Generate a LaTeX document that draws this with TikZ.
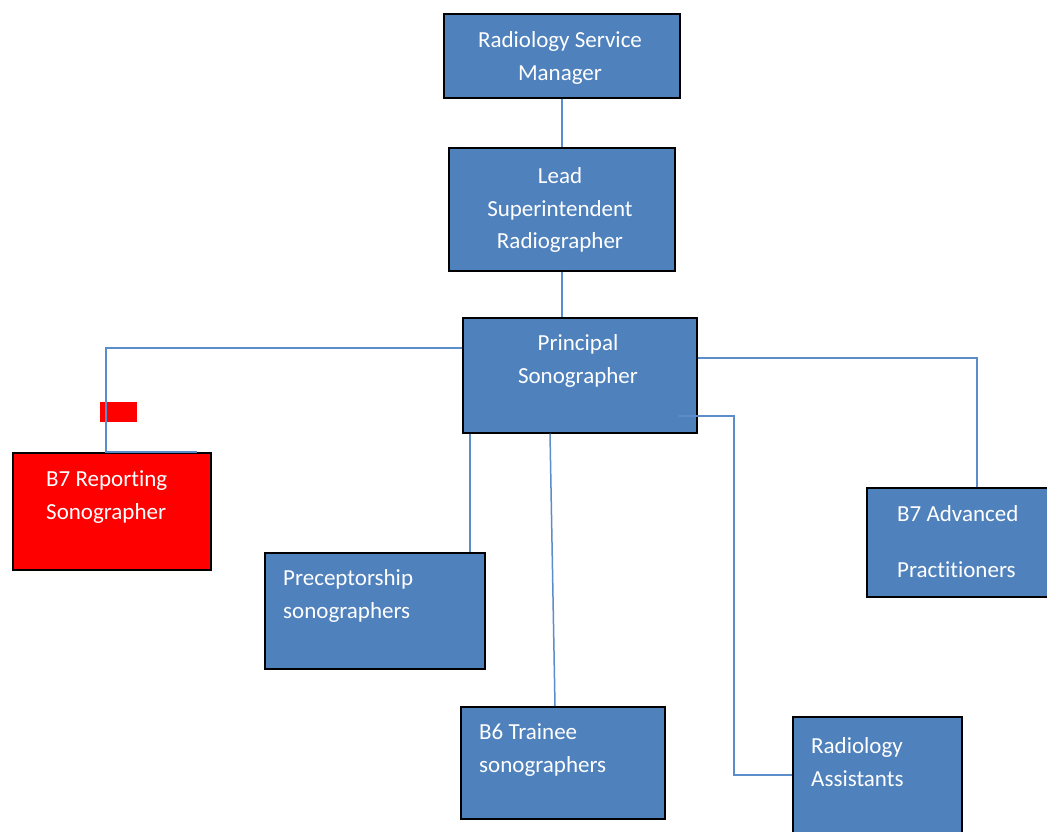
\documentclass[tikz,border=0pt]{standalone}
\usepackage{fontspec}
\setmainfont{Carlito}[Ligatures=NoCommon]
\usetikzlibrary{calc}
\definecolor{boxblue}{HTML}{4F81BD}
\definecolor{linkblue}{HTML}{5B8DCB}
\definecolor{markred}{HTML}{FF0000}
\begin{document}
\begin{tikzpicture}[x=1pt,y=-1pt,
  box/.style={draw=black, line width=1.6pt, fill=boxblue, inner sep=0pt, anchor=north west},
  txt/.style={text=white, font=\fontsize{23}{32.5}\selectfont, inner sep=0pt},
  link/.style={draw=linkblue, line width=1.5pt}]
\clip (0,0) rectangle (1047,831);
\fill[white] (0,0) rectangle (1047,831);

% boxes
\node[box, minimum width=236, minimum height=84] (rsm) at (443,13) {};
\node[box, minimum width=226, minimum height=123] (lead) at (448,147) {};
\node[box, minimum width=234, minimum height=115] (prin) at (462,317) {};
\node[box, minimum width=198, minimum height=117, fill=markred] (rep) at (12,452) {};
\node[box, minimum width=220, minimum height=116] (prec) at (264,552) {};
\node[box, minimum width=204, minimum height=112] (train) at (460,706) {};
\node[box, minimum width=169, minimum height=130] (asst) at (792,716) {};
\node[box, minimum width=190, minimum height=109] (adv) at (866,487) {};

% texts
\node[txt, align=center] (rsm-t) at (560,58) {Radiology Service\\Manager};
\node[txt, align=center] (lead-t) at (560,210) {Lead\\Superintendent\\Radiographer};
\node[txt, align=center] (prin-t) at (578,361) {Principal\\Sonographer};
\node[txt, align=left, anchor=west] (rep-t) at (46,497) {B7 Reporting\\Sonographer};
\node[txt, align=left, anchor=west] (prec-t) at (283,596) {Preceptorship\\sonographers};
\node[txt, align=left, anchor=west] (train-t) at (479,750) {B6 Trainee\\sonographers};
\node[txt, align=left, anchor=west] (asst-t) at (811,762) {Radiology\\Assistants};
\node[txt, align=left, anchor=west] (adv-t) at (897,542) {B7 Advanced\\[23.5pt]Practitioners};

% small red mark
\fill[markred] (100,402) rectangle (137,422);

% connectors
\coordinate (prec-out) at ($(prin.south west)+(8,0)$);
\coordinate (train-out) at ($(prin.south west)+(88,0)$);
\coordinate (asst-in) at ($(asst.north west)+(0,59)$);
\draw[link] (rsm.south) -- (lead.north);
\draw[link] (lead.south) -- (lead.south |- prin.north);
\draw[link] ($(prin.north west)+(0,31)$) -| ($(rep.north west)+(94,0)$) -- ($(rep.north west)+(185,0)$);
\draw[link] ($(prin.north east)+(0,41)$) -| ($(adv.north west)+(111,0)$);
\draw[link] ($(prin.north east)+(-19,99)$) -| ($(asst-in)+(-58,0)$) -- (asst-in);
\draw[link] (prec-out) -- (prec-out |- prec.north);
\draw[link] (train-out) -- ($(train.north west)+(95,0)$);
\end{tikzpicture}
\end{document}
